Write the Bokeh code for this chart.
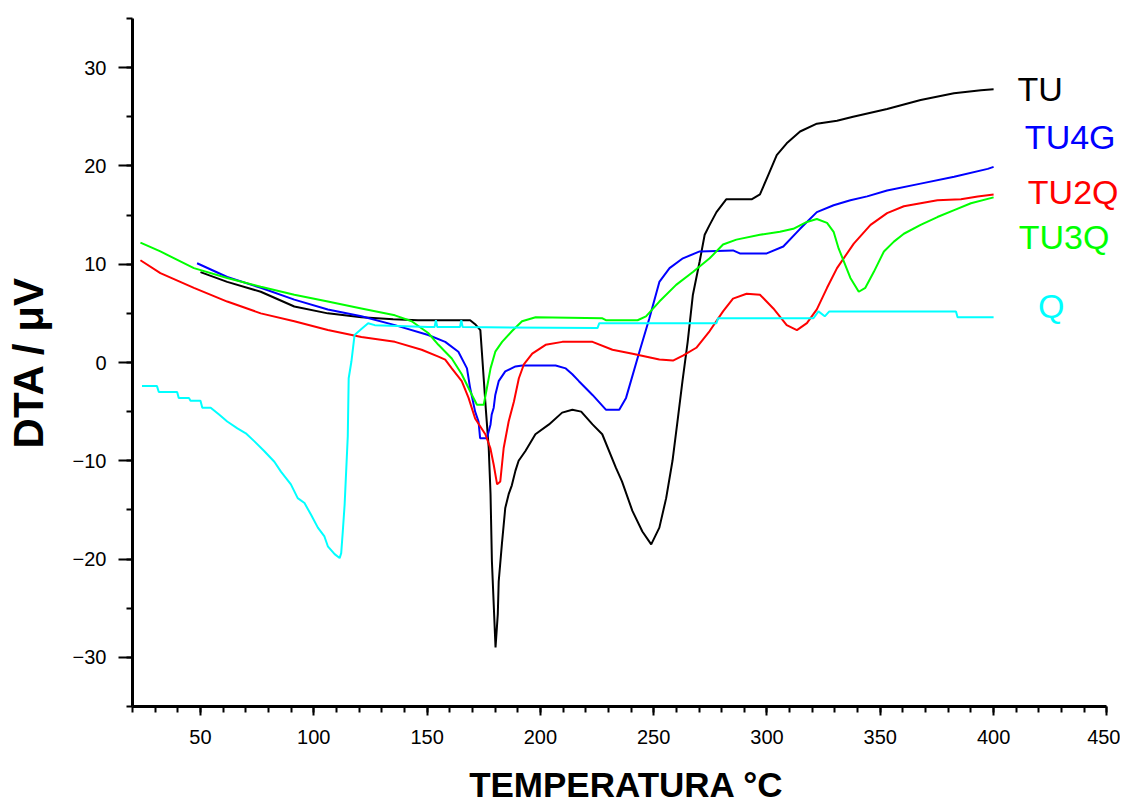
from bokeh.plotting import figure
from bokeh.models import Range1d, FixedTicker, Label
from bokeh.embed import file_html
from bokeh.resources import INLINE

# ---- data ----
tu_x = [50, 61.8, 76.6, 91.4, 106.2, 121, 135, 146, 169, 171.2, 173.5, 174.5, 176, 177.2, 178,
        178.6, 180.2, 181.2, 181.6, 183, 184.5, 186, 187.4, 189, 190.4, 193.4, 197.8, 203.8, 209.6,
        214.1, 218, 223, 227.3, 233.3, 236, 240.6, 245, 248.9, 252.5, 255.5, 258.3, 260.5, 262.7,
        265, 267.3, 270.3, 272.5, 274.7, 277.7, 282, 293.2, 296.9, 300.6, 304.3, 308.7, 314.6, 322,
        330.9, 338, 353, 367.8, 382.5, 394.4, 400]
tu_y = [9.2, 8.2, 7.2, 5.7, 5.0, 4.6, 4.4, 4.3, 4.3, 3.9, 3.3, 0.0, -5.0, -8.7, -13.4,
        -20.2, -29.0, -25.6, -22.3, -18.5, -14.8, -13.4, -12.5, -11.0, -10.0, -9.0, -7.3, -6.3, -5.1,
        -4.8, -5.0, -6.3, -7.3, -10.7, -12.1, -15.1, -17.2, -18.5, -16.8, -13.8, -10.0, -6.0, -1.9,
        2.1, 6.9, 10.3, 13.0, 14.0, 15.3, 16.6, 16.6, 17.1, 19.1, 21.1, 22.3, 23.5, 24.3,
        24.6, 25.0, 25.8, 26.7, 27.4, 27.7, 27.8]

tu4g_x = [48.5, 61.8, 76.6, 91.4, 106.2, 121, 135.8, 150.5, 158, 163.8, 167.6, 169, 171.2, 172.7,
          173.4, 176.4, 178, 178.5, 179.4, 180.1, 181.6, 184.5, 189, 192, 206.7, 211.2, 214.1, 217,
          223, 228.9, 234.8, 237.8, 243.7, 248.1, 252.5, 257, 262.9, 270.3, 285, 288, 299.9, 307.2,
          314.6, 322, 329.4, 336.8, 344.2, 353, 367.8, 382.6, 397.4, 400]
tu4g_y = [10.1, 8.7, 7.6, 6.4, 5.4, 4.7, 3.8, 2.8, 2.1, 1.1, -0.6, -2.6, -5.0, -6.0,
          -7.7, -7.7, -6.3, -5.3, -4.6, -3.3, -1.9, -0.9, -0.4, -0.3, -0.3, -0.6, -1.2, -1.9,
          -3.3, -4.8, -4.8, -3.6, 1.1, 4.5, 8.2, 9.6, 10.6, 11.3, 11.4, 11.1, 11.1, 11.8,
          13.6, 15.3, 16.0, 16.5, 16.9, 17.5, 18.2, 18.9, 19.7, 19.9]

tu2q_x = [23.5, 32.3, 47.1, 61.8, 76.6, 91.4, 106.2, 121, 135.8, 147.6, 155, 158, 160.9, 165.3,
          168.3, 171.2, 175.7, 177.9, 179.4, 180.9, 182.3, 183.8, 186, 188.3, 190.5, 192.7, 196.4,
          202.3, 209.7, 223, 231.8, 240.7, 252.5, 258.5, 262.9, 268.8, 274.7, 280.6, 285, 291,
          296.9, 302.8, 308.7, 313.2, 317.6, 322, 326.5, 330.9, 338.3, 345.7, 353, 360.4, 367.8,
          375.2, 385.6, 393, 400]
tu2q_y = [10.4, 9.1, 7.6, 6.2, 5.0, 4.2, 3.3, 2.6, 2.1, 1.3, 0.6, 0.3, -0.6, -1.9,
          -3.6, -5.7, -7.3, -8.7, -10.4, -12.4, -12.1, -8.7, -6.0, -4.0, -1.6, -0.2, 0.9,
          1.8, 2.1, 2.1, 1.3, 0.9, 0.3, 0.2, 0.7, 1.5, 3.2, 5.2, 6.5, 7.0,
          6.9, 5.5, 3.8, 3.3, 4.0, 5.4, 7.6, 9.6, 12.1, 14.0, 15.2, 15.9, 16.2,
          16.5, 16.6, 16.9, 17.1]

tu3q_x = [23.5, 32.3, 47.1, 61.8, 76.6, 91.4, 106.2, 121, 135.8, 143.2, 150.5, 155, 160.9, 165.3,
          169.8, 172, 175, 176.4, 178, 180.1, 183.1, 187.5, 191.9, 197.9, 227.4, 228.9, 242.9,
          246.6, 252.5, 259.9, 267.3, 274.7, 280.6, 286.5, 296.9, 305.7, 311.6, 317.6, 322, 326.5,
          329.4, 331.6, 333.9, 336.8, 340.5, 343.4, 347.1, 351.6, 356, 360.4, 367.8, 375.2, 382.6,
          390, 400]
tu3q_y = [12.2, 11.3, 9.6, 8.6, 7.7, 6.9, 6.2, 5.5, 4.8, 4.2, 3.0, 1.8, 0.4, -1.2,
          -3.3, -4.3, -4.3, -2.6, -0.6, 1.1, 2.1, 3.2, 4.2, 4.6, 4.5, 4.3, 4.3,
          4.7, 6.2, 7.9, 9.2, 10.6, 12.0, 12.5, 13.0, 13.3, 13.6, 14.3, 14.6, 14.2,
          13.3, 11.6, 10.3, 8.6, 7.2, 7.6, 9.2, 11.3, 12.3, 13.1, 14.0, 14.8, 15.5,
          16.2, 16.8]

q_x = [24.2, 30.8, 31.6, 39.7, 40.4, 44.9, 45.6, 50, 50.8, 54.5, 58.2, 61.8, 66.3, 70, 73.7, 78.1,
       82.6, 85.5, 89.9, 92.9, 95.9, 98.8, 101.8, 104.7, 106.2, 109.2, 111.4, 112.1, 112.8, 113.6,
       115, 115.4, 116.6, 118, 121, 124, 126.9, 150.5, 153.3, 153.9, 154.5, 164.5, 165.1, 165.7,
       225.2, 226, 277.7, 278.4, 320.5, 322.7, 325.5, 327.5, 383.4, 384.1, 400]
q_y = [-2.4, -2.4, -3.0, -3.0, -3.6, -3.6, -3.9, -3.9, -4.6, -4.6, -5.3, -6.0, -6.7, -7.2, -8.0, -9.0,
       -10.1, -11.1, -12.4, -13.8, -14.3, -15.5, -16.8, -17.7, -18.7, -19.5, -19.9, -19.4, -17.2, -14.5,
       -7.5, -1.6, 0.1, 2.8, 3.4, 4.0, 3.8, 3.6, 3.6, 4.3, 3.6, 3.6, 4.3, 3.6,
       3.5, 4.0, 4.0, 4.5, 4.5, 5.2, 4.7, 5.2, 5.2, 4.6, 4.6]

series_names = ["TU", "TU4G", "TU2Q", "TU3Q", "Q"]
series_colors = ["#000000", "#0000ff", "#ff0000", "#00ff00", "#00ffff"]
# label anchor positions (data units) for the series names at the right
label_x = [410.5, 413.8, 415.1, 411.1, 419.6]
label_y = [27.8, 22.9, 17.3, 12.8, 5.7]

x_major = [50, 100, 150, 200, 250, 300, 350, 400, 450]
x_minor = list(range(20, 451, 10))
y_major = [-30, -20, -10, 0, 10, 20, 30]
y_minor = list(range(-35, 36, 5))

p = figure(width=1120, height=810, output_backend="svg", toolbar_location=None,
           x_range=Range1d(20, 456), y_range=Range1d(-35, 35),
           min_border_left=132, min_border_top=18, min_border_right=0, min_border_bottom=104)
p.outline_line_color = None
p.xgrid.visible = False
p.ygrid.visible = False
p.background_fill_color = "white"
p.border_fill_color = "white"

xs_all = [tu_x, tu4g_x, tu2q_x, tu3q_x, q_x]
ys_all = [tu_y, tu4g_y, tu2q_y, tu3q_y, q_y]
for xs, ys, c in zip(xs_all, ys_all, series_colors):
    p.line(xs, ys, line_color=c, line_width=2)

for name, c, lx, ly in zip(series_names, series_colors, label_x, label_y):
    p.add_layout(Label(x=lx, y=ly, text=name, text_color=c, text_font="Liberation Sans",
                       text_font_size="34px", text_baseline="middle", text_align="left"))

p.xaxis.ticker = FixedTicker(ticks=x_major, minor_ticks=x_minor)
p.yaxis.ticker = FixedTicker(ticks=y_major, minor_ticks=y_minor)
p.xaxis.bounds = (20, 450)

for ax in (p.xaxis[0], p.yaxis[0]):
    ax.axis_line_width = 3
    ax.axis_line_color = "black"
    ax.major_tick_line_width = 2
    ax.minor_tick_line_width = 2
    ax.major_tick_in = 0
    ax.minor_tick_in = 0
    ax.minor_tick_out = 6
    ax.major_label_text_font = "Liberation Sans"
    ax.major_label_text_font_size = "20px"
    ax.major_label_text_color = "black"
    ax.axis_label_text_font = "Liberation Sans"
    ax.axis_label_text_font_style = "bold"
    ax.axis_label_text_color = "black"

p.xaxis.major_tick_out = 9
p.xaxis.major_label_standoff = 14
p.xaxis.axis_label = "TEMPERATURA °C"
p.xaxis.axis_label_text_font_size = "35px"
p.xaxis.axis_label_standoff = 18

p.yaxis.major_tick_out = 14
p.yaxis.major_label_standoff = 12
p.yaxis.axis_label = "DTA / μV"
p.yaxis.axis_label_text_font_size = "42px"
p.yaxis.axis_label_standoff = 18

open("out.html", "w").write(file_html(p, INLINE))
